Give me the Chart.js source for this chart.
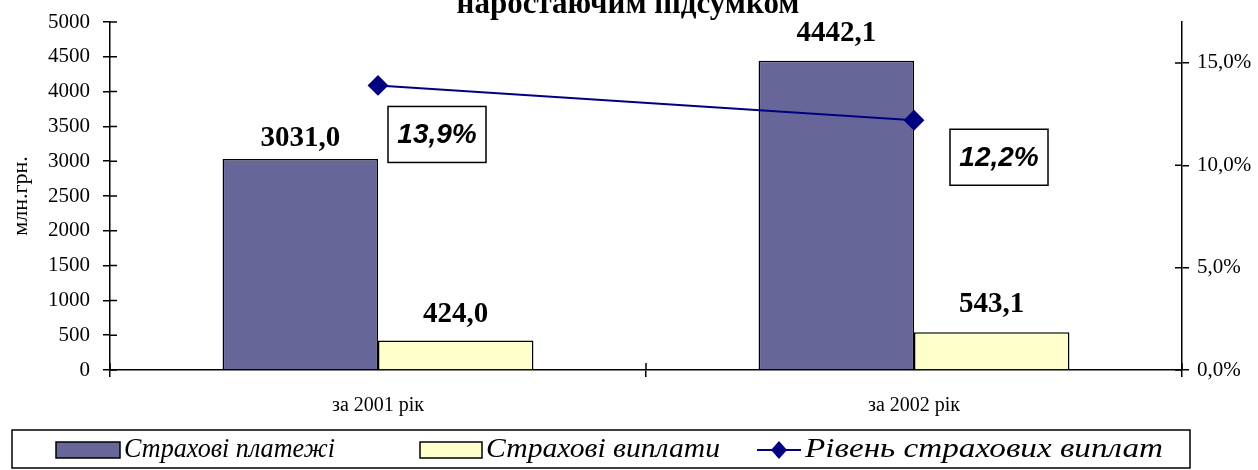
<!DOCTYPE html>
<html>
<head>
<meta charset="utf-8">
<script src="https://cdn.jsdelivr.net/npm/chart.js@4"></script>
<style>
  html, body { margin: 0; padding: 0; background: #fff; }
  #wrap { width: 1258px; height: 470px; }
</style>
</head>
<body>
<div id="wrap"><canvas id="chart" width="1258" height="470"></canvas></div>
<script>
var categories = ["за 2001 рік", "за 2002 рік"];
var payments = [3031.0, 4442.1];     // Страхові платежі, млн.грн.
var payouts = [424.0, 543.1];        // Страхові виплати, млн.грн.
var payoutLevel = [13.9, 12.2];      // Рівень страхових виплат, %

var seriesNames = ["Страхові платежі", "Страхові виплати", "Рівень страхових виплат"];
var titleText = "наростаючим підсумком";

// label placement tweaks (pixels), not data
var barLabelLift = [[13, 18], [20, 20]];
var boxShift = [[10, 21], [36, 9]];

var serif = "'Liberation Serif', 'DejaVu Serif', serif";
var sans = "'Liberation Sans', Arial, sans-serif";

function fmt(v, d) {
    return v.toFixed(d).replace('.', ',');
}

// text stretched to a given width (the original legend font is wider)
function wideText(ctx, text, x, y, w) {
    var m = ctx.measureText(text).width;
    ctx.save();
    ctx.translate(x, y);
    ctx.scale(w / m, 1);
    ctx.fillText(text, 0, 0);
    ctx.restore();
}

function fixedWidth(w) {
    return function (s) {
        s.width = w;
        s.paddingTop = 0;
        s.paddingBottom = 0;
    };
}

var labelsPlugin = {
    id: 'labels',
    afterDatasetsDraw: function (chart) {
        var ctx = chart.ctx;
        var area = chart.chartArea;
        ctx.save();

        // inner halves of the tick marks (Excel-style crossing ticks)
        ctx.strokeStyle = '#000';
        ctx.lineWidth = 1.5;
        ctx.beginPath();
        chart.scales.y.ticks.forEach(function (t) {
            var py = chart.scales.y.getPixelForValue(t.value);
            ctx.moveTo(area.left, py);
            ctx.lineTo(area.left + 7, py);
        });
        chart.scales.y1.ticks.forEach(function (t) {
            var py = chart.scales.y1.getPixelForValue(t.value);
            ctx.moveTo(area.right, py);
            ctx.lineTo(area.right - 7, py);
        });
        [area.left, (area.left + area.right) / 2, area.right].forEach(function (px) {
            ctx.moveTo(px, area.bottom);
            ctx.lineTo(px, area.bottom - 7);
        });
        ctx.stroke();

        // bar values
        ctx.fillStyle = '#000';
        ctx.font = 'bold 29px ' + serif;
        ctx.textAlign = 'center';
        ctx.textBaseline = 'alphabetic';
        [0, 1].forEach(function (di) {
            chart.getDatasetMeta(di).data.forEach(function (bar, i) {
                var v = chart.data.datasets[di].data[i];
                ctx.fillText(fmt(v, 1), bar.x, bar.y - barLabelLift[i][di]);
            });
        });
        // line values in boxes
        chart.getDatasetMeta(2).data.forEach(function (pt, i) {
            var v = chart.data.datasets[2].data[i];
            var bx = pt.x + boxShift[i][0], by = pt.y + boxShift[i][1];
            ctx.fillStyle = '#fff';
            ctx.fillRect(bx, by, 98, 56);
            ctx.strokeStyle = '#000';
            ctx.lineWidth = 1.5;
            ctx.strokeRect(bx, by, 98, 56);
            ctx.fillStyle = '#000';
            ctx.font = 'italic bold 28px ' + sans;
            ctx.textBaseline = 'middle';
            ctx.fillText(fmt(v, 1) + '%', bx + 49, by + 29);
        });
        ctx.restore();
    },
    afterDraw: function (chart) {
        var ctx = chart.ctx;
        ctx.save();
        // title, clipped at the top like the original
        ctx.fillStyle = '#000';
        ctx.font = 'bold 31px ' + serif;
        ctx.textAlign = 'center';
        ctx.textBaseline = 'alphabetic';
        ctx.fillText(titleText, 628, 13);

        // legend
        ctx.strokeStyle = '#000';
        ctx.lineWidth = 1.5;
        ctx.strokeRect(12, 430, 1178, 38);
        ctx.font = 'italic 27px ' + serif;
        ctx.textAlign = 'left';
        ctx.textBaseline = 'middle';
        var ly = 450;
        ctx.fillStyle = '#666699';
        ctx.fillRect(56, 442, 64, 16);
        ctx.strokeRect(56, 442, 64, 16);
        ctx.fillStyle = '#000';
        wideText(ctx, seriesNames[0], 124, ly, 211);
        ctx.fillStyle = '#FFFFCC';
        ctx.fillRect(420, 442, 62, 16);
        ctx.strokeRect(420, 442, 62, 16);
        ctx.fillStyle = '#000';
        wideText(ctx, seriesNames[1], 486, ly, 234);
        ctx.strokeStyle = '#000080';
        ctx.lineWidth = 2;
        ctx.beginPath();
        ctx.moveTo(757, ly);
        ctx.lineTo(801, ly);
        ctx.stroke();
        ctx.fillStyle = '#000080';
        ctx.beginPath();
        ctx.moveTo(779, ly - 9);
        ctx.lineTo(787, ly);
        ctx.lineTo(779, ly + 9);
        ctx.lineTo(771, ly);
        ctx.closePath();
        ctx.fill();
        ctx.fillStyle = '#000';
        wideText(ctx, seriesNames[2], 805, ly, 358);
        ctx.restore();
    }
};

var tickFont = { family: serif, size: 21 };

new Chart(document.getElementById('chart'), {
    type: 'bar',
    data: {
        labels: categories,
        datasets: [
            {
                label: seriesNames[0],
                data: payments,
                backgroundColor: '#666699',
                borderColor: '#000',
                borderWidth: 1.5,
                yAxisID: 'y',
                order: 2
            },
            {
                label: seriesNames[1],
                data: payouts,
                backgroundColor: '#FFFFCC',
                borderColor: '#000',
                borderWidth: 1.5,
                yAxisID: 'y',
                order: 2
            },
            {
                type: 'line',
                label: seriesNames[2],
                data: payoutLevel,
                borderColor: '#000080',
                backgroundColor: '#000080',
                borderWidth: 2,
                pointStyle: 'rectRot',
                pointRadius: 9,
                yAxisID: 'y1',
                order: 1
            }
        ]
    },
    options: {
        responsive: false,
        animation: false,
        layout: { padding: { top: 22, bottom: 50, left: 0, right: 0 } },
        datasets: {
            bar: { categoryPercentage: 0.58, barPercentage: 1 }
        },
        plugins: {
            legend: { display: false },
            tooltip: { enabled: false },
            title: { display: false }
        },
        scales: {
            x: {
                grid: { drawOnChartArea: false, color: '#000', tickLength: 7, lineWidth: 1.5 },
                border: { color: '#000', width: 1.5 },
                ticks: { color: '#000', font: { family: serif, size: 20 }, padding: 17 },
                afterFit: function (s) {
                    s.height = 50;
                    s.paddingLeft = 0;
                    s.paddingRight = 0;
                }
            },
            y: {
                position: 'left',
                min: 0,
                max: 5000,
                grid: { drawOnChartArea: false, color: '#000', tickLength: 7, lineWidth: 1.5 },
                border: { color: '#000', width: 1.5 },
                ticks: {
                    stepSize: 500,
                    color: '#000',
                    font: tickFont,
                    padding: 13,
                    callback: function (v) { return String(v); }
                },
                title: {
                    display: true,
                    text: 'млн.грн.',
                    color: '#000',
                    font: { family: serif, size: 22 },
                    padding: { top: 8, bottom: 0 }
                },
                afterFit: fixedWidth(110)
            },
            y1: {
                position: 'right',
                min: 0,
                max: 17,
                grid: { drawOnChartArea: false, color: '#000', tickLength: 7, lineWidth: 1.5 },
                border: { color: '#000', width: 1.5 },
                ticks: {
                    stepSize: 5,
                    includeBounds: false,
                    color: '#000',
                    font: tickFont,
                    padding: 8,
                    callback: function (v) { return fmt(v, 1) + '%'; }
                },
                afterFit: fixedWidth(76)
            }
        }
    },
    plugins: [labelsPlugin]
});
</script>
</body>
</html>
